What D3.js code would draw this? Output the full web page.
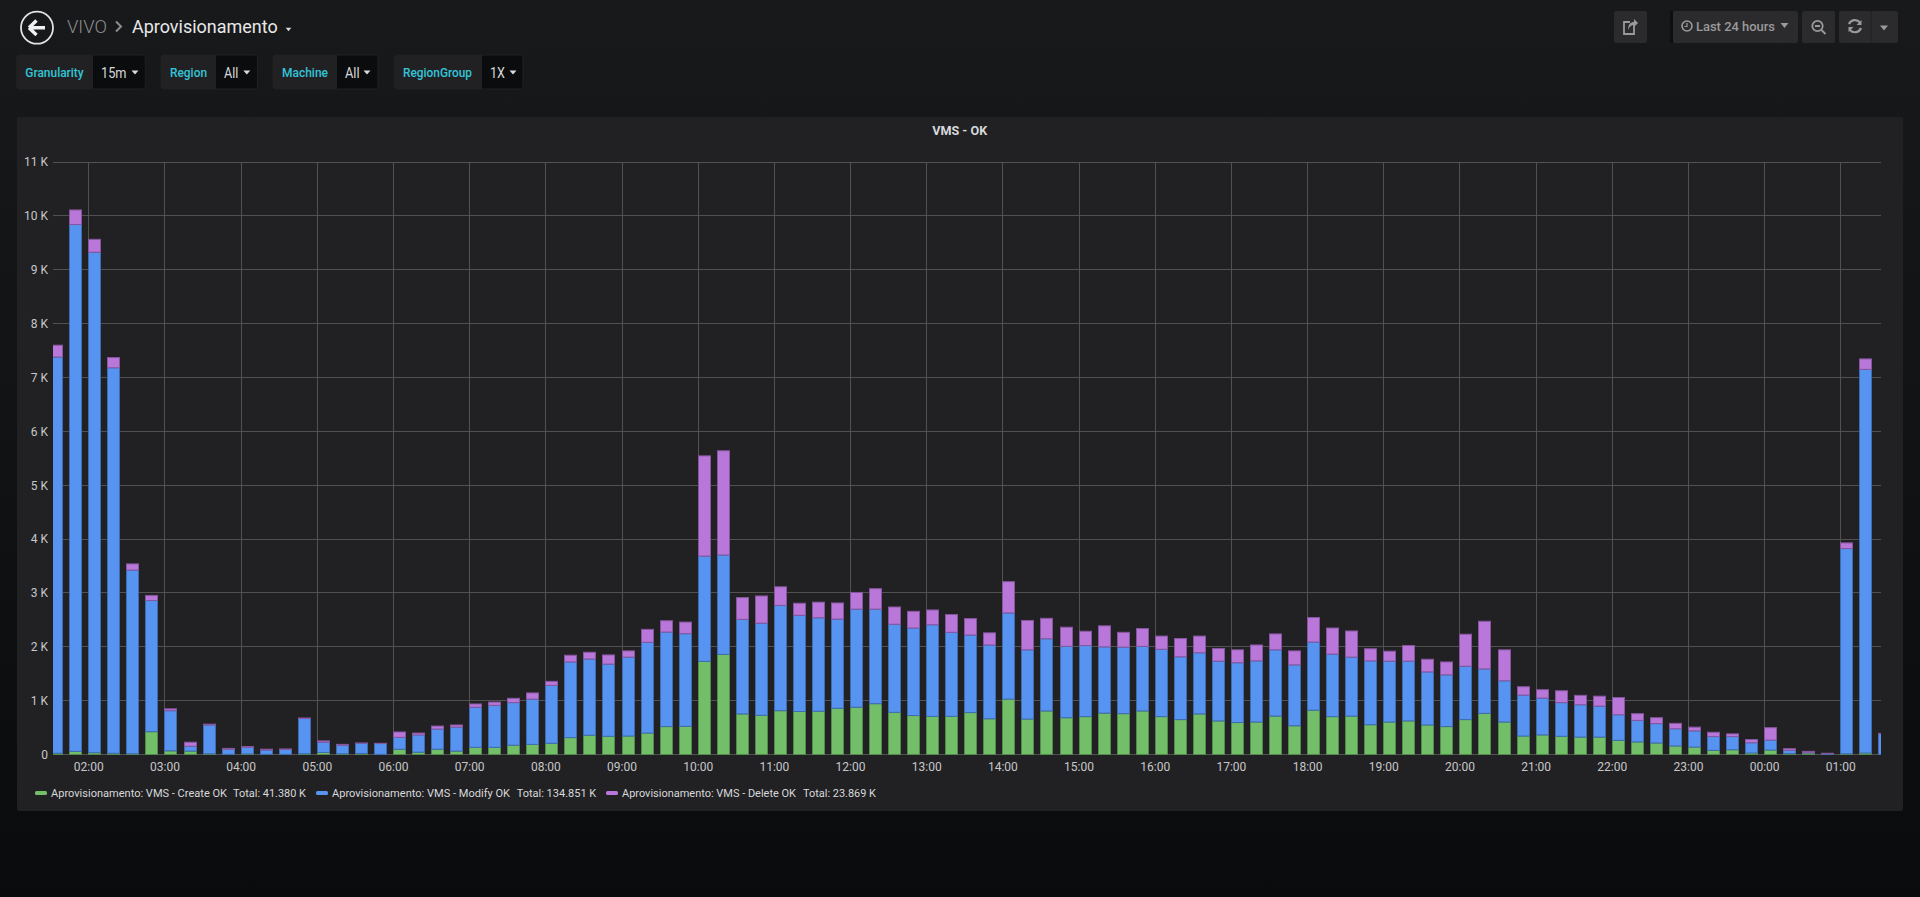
<!DOCTYPE html>
<html>
<head>
<meta charset="utf-8">
<title>VMS - OK</title>
<script src="https://cdnjs.cloudflare.com/ajax/libs/d3/7.8.5/d3.min.js"></script>
<style>
  html, body { margin: 0; padding: 0; background: #0b0c0e; overflow: hidden; }
  svg { display: block; }
  text { font-family: Roboto, "Open Sans", sans-serif; }
</style>
</head>
<body>
<svg id="chart" width="1920" height="897"></svg>
<script>
// values, one bar every 15 minutes starting at 01:30
const create = [25,60,35,25,15,425,70,65,15,5,12,5,5,15,40,15,20,5,100,45,100,65,135,135,175,190,210,315,360,340,345,400,520,525,1730,1860,755,730,815,800,805,860,880,945,785,725,710,710,780,665,1030,660,810,685,705,770,760,810,705,650,755,625,595,605,715,535,825,705,715,555,605,625,550,520,650,765,605,345,365,340,325,325,265,235,215,160,140,80,90,30,85,20,30,5,15,30,5];
const modify = [7355,9780,9290,7155,3410,2435,745,90,535,95,123,80,90,655,190,160,190,200,220,320,375,445,745,780,790,840,1075,1405,1415,1340,1465,1685,1755,1720,1955,1845,1755,1710,1955,1785,1735,1655,1820,1755,1635,1625,1700,1560,1440,1370,1600,1285,1340,1325,1320,1230,1235,1200,1250,1165,1135,1110,1110,1135,1230,1130,1265,1160,1095,1185,1130,1110,985,960,990,825,765,760,685,625,600,575,475,400,360,320,300,255,245,190,185,60,5,13,3810,7120,380];
const remove = [220,270,240,190,115,95,35,75,15,15,15,15,10,10,25,15,5,5,100,35,55,40,60,60,80,115,75,125,125,170,115,240,210,215,1860,1935,405,505,345,225,290,300,310,380,320,310,275,330,305,225,580,545,380,355,265,390,275,330,245,340,310,235,240,295,295,260,455,485,485,225,185,290,235,240,595,885,575,155,155,220,175,185,320,125,110,100,70,80,50,60,230,30,25,7,105,195,10];

const seriesKeys = ['create', 'modify', 'remove'];
const seriesColors = ['#73bf69', '#5794f2', '#b877d9'];
const legendNames = ['Aprovisionamento: VMS - Create OK', 'Aprovisionamento: VMS - Modify OK', 'Aprovisionamento: VMS - Delete OK'];
const legendTotals = ['Total: 41.380 K', 'Total: 134.851 K', 'Total: 23.869 K'];
const yTicks = [0,1000,2000,3000,4000,5000,6000,7000,8000,9000,10000,11000];

const t0 = Date.UTC(2020, 0, 1, 1, 30);
const rows = create.map((c, i) => ({
  time: d3.utcMinute.offset(new Date(t0), i * 15),
  create: c, modify: modify[i], remove: remove[i]
}));

const svg = d3.select('#chart');
const defs = svg.append('defs');

const grad = defs.append('linearGradient').attr('id', 'page-bg')
  .attr('x1', 0).attr('y1', 0).attr('x2', 0).attr('y2', 1);
grad.append('stop').attr('offset', '0%').attr('stop-color', '#18191b');
grad.append('stop').attr('offset', '100%').attr('stop-color', '#0a0b0d');
svg.append('rect').attr('width', 1920).attr('height', 897).attr('fill', 'url(#page-bg)');

function label(g, x, y, str, size, color, width, weight, anchor) {
  const t = g.append('text').attr('x', x).attr('y', y).text(str)
    .attr('font-size', size).attr('fill', color)
    .attr('dominant-baseline', 'central');
  if (width) t.attr('textLength', width).attr('lengthAdjust', 'spacingAndGlyphs');
  if (weight) t.attr('font-weight', weight);
  if (anchor) t.attr('text-anchor', anchor);
  return t;
}

function caret(g, cx, cy, w, color) {
  g.append('path').attr('d', `M${cx - w},${cy - w * 0.6}L${cx + w},${cy - w * 0.6}L${cx},${cy + w * 0.6}Z`).attr('fill', color);
}

// ---- header
const head = svg.append('g');
head.append('circle').attr('cx', 37).attr('cy', 27.7).attr('r', 16)
  .attr('fill', 'none').attr('stroke', '#e3e3e3').attr('stroke-width', 1.8);
head.append('path').attr('d', 'M29,27.7L36.5,20.5M29,27.7L36.5,35M30,27.7H45')
  .attr('fill', 'none').attr('stroke', '#f0f0f0').attr('stroke-width', 3.4);
label(head, 67, 26.5, 'VIVO', 18, '#8e8e8e', 40, 300);
head.append('path').attr('d', 'M116,21.5L121,26.5L116,31.5').attr('fill', 'none').attr('stroke', '#8e8e8e').attr('stroke-width', 2);
label(head, 132, 26.5, 'Aprovisionamento', 18, '#e8e8e8', 145.7, 400);
caret(head, 288.5, 29.5, 2.8, '#d8d9da');

// ---- template variables
const varLabels = ['Granularity', 'Region', 'Machine', 'RegionGroup'];
const varValues = ['15m', 'All', 'All', '1X'];
const varBoxes = [
  { x0: 16.3, x1: 93, x2: 145.3, lx: 25.3, lw: 58.4, vx: 101, vw: 25.5, cx: 135 },
  { x0: 161, x1: 216, x2: 257.5, lx: 170, lw: 37, vx: 224, vw: 14.4, cx: 246.8 },
  { x0: 273, x1: 337, x2: 378, lx: 282, lw: 46, vx: 345, vw: 14.6, cx: 367 },
  { x0: 394, x1: 482, x2: 523, lx: 403, lw: 69, vx: 490, vw: 15, cx: 513 }
];
const vars = svg.append('g');
varBoxes.forEach((b, i) => {
  vars.append('rect').attr('x', b.x0).attr('y', 55).attr('width', b.x2 - b.x0).attr('height', 34).attr('rx', 3).attr('fill', '#0b0c0e').attr('stroke', '#1f2023');
  vars.append('path').attr('d', `M${b.x0 + 3},55H${b.x1}V89H${b.x0 + 3}Q${b.x0},89 ${b.x0},86V58Q${b.x0},55 ${b.x0 + 3},55Z`).attr('fill', '#212124');
  label(vars, b.lx, 72.5, varLabels[i], 12.5, '#33c5d8', b.lw, 500);
  label(vars, b.vx, 73, varValues[i], 14, '#d8d9da', b.vw, 400);
  caret(vars, b.cx, 72.5, 3.5, '#d8d9da');
});

// ---- top right buttons
const btnColor = '#2b2b2e', iconColor = '#9a9a9b';
const btns = svg.append('g');
[[1614, 33], [1673, 125], [1802, 33], [1839, 33], [1871, 27]].forEach(b => {
  btns.append('rect').attr('x', b[0]).attr('y', 11).attr('width', b[1]).attr('height', 32).attr('rx', 2).attr('fill', btnColor);
});
btns.append('rect').attr('x', 1670).attr('y', 11).attr('width', 3).attr('height', 32).attr('fill', '#0e0f11');
// share icon
btns.append('path').attr('d', 'M1634,24V34H1624V22H1630').attr('fill', 'none').attr('stroke', iconColor).attr('stroke-width', 1.8);
btns.append('path').attr('d', 'M1628,30C1628,24 1631,22 1634,22V19L1638,23L1634,27V25C1631,25 1629,27 1628,30Z').attr('fill', iconColor);
// clock
btns.append('circle').attr('cx', 1687).attr('cy', 26).attr('r', 5).attr('fill', 'none').attr('stroke', iconColor).attr('stroke-width', 1.6);
btns.append('path').attr('d', 'M1687,23V26.5H1684.5').attr('fill', 'none').attr('stroke', iconColor).attr('stroke-width', 1.2);
label(btns, 1696, 26.5, 'Last 24 hours', 13, iconColor, 79, 500);
caret(btns, 1784.5, 25.5, 4, iconColor);
// zoom out
btns.append('circle').attr('cx', 1817.5).attr('cy', 26).attr('r', 5.2).attr('fill', 'none').attr('stroke', iconColor).attr('stroke-width', 1.8);
btns.append('path').attr('d', 'M1815,26H1820M1821.5,30L1825.5,34').attr('fill', 'none').attr('stroke', iconColor).attr('stroke-width', 1.8);
// refresh
btns.append('path').attr('d', 'M1849,24A6.5,6.5 0 0 1 1860,22.5M1861,28A6.5,6.5 0 0 1 1850,30')
  .attr('fill', 'none').attr('stroke', iconColor).attr('stroke-width', 2.2);
btns.append('path').attr('d', 'M1861.5,20V25H1856.5ZM1848.5,32V27H1853.5Z').attr('fill', iconColor);
btns.append('line').attr('x1', 1871).attr('x2', 1871).attr('y1', 11).attr('y2', 43).attr('stroke', '#232326');
caret(btns, 1884, 28, 4, iconColor);

// ---- panel
svg.append('rect').attr('x', 17).attr('y', 117).attr('width', 1886).attr('height', 694).attr('rx', 2).attr('fill', '#212124');
label(svg, 959.7, 130.5, 'VMS - OK', 12, '#d8d9da', 55, 700, 'middle');

// ---- scales
const plot = { left: 53, right: 1881, top: 162, bottom: 755 };
const x = d3.scaleUtc()
  .domain([new Date(Date.UTC(2020, 0, 1, 2)), new Date(Date.UTC(2020, 0, 2, 1))])
  .range([88.3, 1840.3]);
const y = d3.scaleLinear().domain([0, 11000]).range([754.6, 162]);

defs.append('clipPath').attr('id', 'plot-clip').append('rect')
  .attr('x', plot.left).attr('y', plot.top - 1)
  .attr('width', plot.right - plot.left).attr('height', plot.bottom - plot.top + 1);

const hourTicks = d3.utcHour.range(new Date(Date.UTC(2020, 0, 1, 2)), new Date(Date.UTC(2020, 0, 2, 2)));

// ---- grid, drawn with the axes
const grid = svg.append('g');
const gridColor = '#515152';
grid.append('g')
  .attr('transform', `translate(0,${plot.bottom})`)
  .call(d3.axisBottom(x).tickValues(hourTicks).tickSize(-(plot.bottom - plot.top)).tickFormat(''))
  .call(g => g.select('.domain').remove())
  .call(g => g.selectAll('line').attr('stroke', gridColor)
    .attr('x1', d => Math.round(x(d)) + 0.5).attr('x2', d => Math.round(x(d)) + 0.5))
  .call(g => g.selectAll('.tick').attr('transform', null));
grid.append('g')
  .attr('transform', `translate(${plot.left},0)`)
  .call(d3.axisLeft(y).tickValues(yTicks).tickSize(-(plot.right - plot.left)).tickFormat(''))
  .call(g => g.select('.domain').remove())
  .call(g => g.selectAll('line').attr('stroke', gridColor)
    .attr('y1', d => Math.floor(y(d)) + 0.5).attr('y2', d => Math.floor(y(d)) + 0.5))
  .call(g => g.selectAll('.tick').attr('transform', null));

// ---- stacked bars
const stack = d3.stack().keys(seriesKeys);
const barWidth = 13;
svg.append('g').attr('clip-path', 'url(#plot-clip)')
  .selectAll('g')
  .data(stack(rows))
  .join('g')
  .attr('fill', (d, i) => seriesColors[i])
  .attr('stroke', (d, i) => d3.color(seriesColors[i]).darker(0.9))
  .selectAll('rect')
  .data(d => d)
  .join('rect')
  .attr('x', d => Math.round(x(d.data.time)) + 0.5)
  .attr('y', d => y(d[1]))
  .attr('width', barWidth - 1)
  .attr('height', d => Math.max(0, y(d[0]) - y(d[1])));

// ---- axis labels
const xAxis = svg.append('g').attr('transform', `translate(0,${plot.bottom})`)
  .call(d3.axisBottom(x).tickValues(hourTicks).tickSize(0).tickPadding(7).tickFormat(d3.utcFormat('%H:%M')));
xAxis.select('.domain').remove();
xAxis.selectAll('text').attr('font-size', 12).attr('fill', '#c7c7c9').attr('font-family', 'Roboto');

const yAxis = svg.append('g').attr('transform', `translate(${plot.left},0)`)
  .call(d3.axisLeft(y).tickValues(yTicks).tickSize(0).tickPadding(5).tickFormat(d => d === 0 ? '0' : (d / 1000) + ' K'));
yAxis.select('.domain').remove();
yAxis.selectAll('text').attr('font-size', 12).attr('fill', '#c7c7c9').attr('font-family', 'Roboto');

// ---- legend
const legendX = [
  { sw: 35, name: 51, nameW: 176, total: 233, totalW: 73 },
  { sw: 316, name: 332, nameW: 178, total: 516.7, totalW: 79.5 },
  { sw: 606, name: 622, nameW: 174, total: 803, totalW: 73 }
];
const legend = svg.append('g');
legendX.forEach((p, i) => {
  legend.append('rect').attr('x', p.sw).attr('y', 791).attr('width', 12).attr('height', 4).attr('rx', 1.5).attr('fill', seriesColors[i]);
  label(legend, p.name, 793, legendNames[i], 11.4, '#d8d9da', p.nameW);
  label(legend, p.total, 793, legendTotals[i], 11.4, '#d8d9da', p.totalW);
});
</script>
</body>
</html>
